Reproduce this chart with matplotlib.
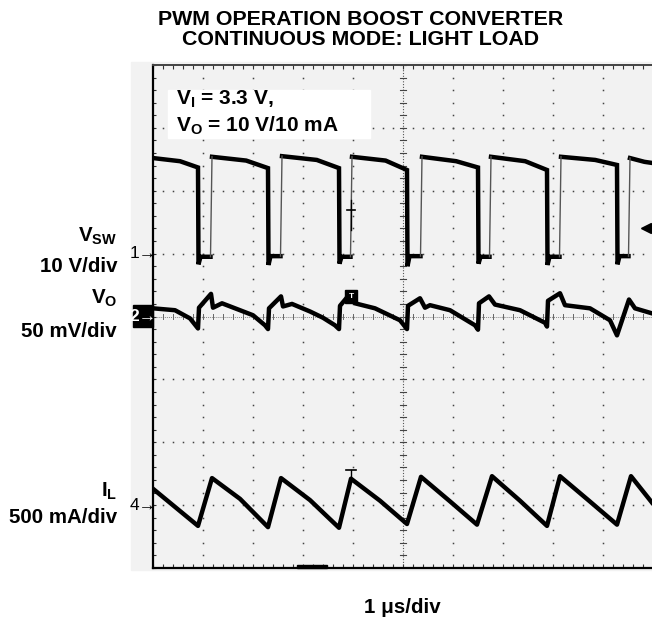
import matplotlib
matplotlib.use("Agg")
import matplotlib.pyplot as plt
from matplotlib.patches import Rectangle
import numpy as np

plt.rcParams['font.family'] = ['Liberation Sans', 'DejaVu Sans']
plt.rcParams['mathtext.fontset'] = 'custom'
plt.rcParams['mathtext.rm'] = 'Liberation Sans:bold'
plt.rcParams['mathtext.bf'] = 'Liberation Sans:bold'
plt.rcParams['mathtext.it'] = 'Liberation Sans:bold'

# ---------------- data (screen divisions) ----------------
title_lines = ["PWM OPERATION BOOST CONVERTER", "CONTINUOUS MODE: LIGHT LOAD"]
x_label = "1 μs/div"
ch_labels = [("$\\mathbf{V_{SW}}$", "10 V/div"), ("$\\mathbf{V_{O}}$", "50 mV/div"), ("$\\mathbf{I_{L}}$", "500 mA/div")]
annotation = ["$\\mathbf{V_{I}}$ = 3.3 V,", "$\\mathbf{V_{O}}$ = 10 V/10 mA"]

# Channel 1: switch node
sw_fall = [0.90, 2.30, 3.72, 5.08, 6.50, 7.88, 9.28]
sw_rise = [1.16, 2.56, 3.96, 5.36, 6.74, 8.14, 9.52]
sw_high_start = [2.52, 2.54, 2.55, 2.54, 2.54, 2.54, 2.54, 2.52]
sw_high_mid = [2.47, 2.48, 2.49, 2.48, 2.47, 2.47, 2.49, 2.46]
sw_high_end = [2.37, 2.36, 2.36, 2.33, 2.37, 2.33, 2.41]
sw_low = [0.95, 0.96, 0.95, 0.96, 0.95, 0.95, 0.96]
sw_undershoot = [0.83, 0.82, 0.84, 0.80, 0.84, 0.82, 0.83]

# Channel 2: output voltage ripple
vo_t = [0.00, 0.44, 0.74, 0.90, 0.92, 1.16, 1.20, 1.38, 1.74, 2.00, 2.24, 2.30,
        2.32, 2.56, 2.60, 2.78, 3.14, 3.40, 3.64, 3.72,
        3.74, 3.96, 4.04, 4.44, 4.94, 5.08,
        5.10, 5.34, 5.44, 5.54, 5.94, 6.44, 6.50,
        6.52, 6.72, 6.84, 7.34, 7.84, 7.88,
        7.90, 8.14, 8.24, 8.74, 9.14, 9.28,
        9.52, 9.64, 9.98]
vo_v = [0.13, 0.10, -0.03, -0.19, 0.14, 0.36, 0.14, 0.21, 0.10, 0.02, -0.14, -0.20,
        0.13, 0.32, 0.16, 0.20, 0.08, -0.02, -0.14, -0.20,
        0.17, 0.38, 0.21, 0.13, -0.06, -0.20,
        0.17, 0.29, 0.14, 0.18, 0.10, -0.14, -0.21,
        0.21, 0.32, 0.19, 0.10, -0.10, -0.16,
        0.25, 0.37, 0.18, 0.13, -0.06, -0.30,
        0.27, 0.13, 0.05]

# Channel 4: inductor current
il_t = [0.00, 0.90, 1.18, 1.74, 2.30, 2.56, 3.14, 3.72, 3.96, 4.54, 5.08,
        5.36, 5.94, 6.48, 6.78, 7.34, 7.88, 8.14, 8.72, 9.28, 9.56, 9.98]
il_v = [-2.74, -3.33, -2.57, -2.90, -3.35, -2.57, -2.92, -3.36, -2.58, -2.93, -3.30,
        -2.55, -2.94, -3.31, -2.54, -2.93, -3.33, -2.54, -2.93, -3.31, -2.54, -2.96]

trig_level = 1.40

# ---------------- figure ----------------
W, H = 652, 625
fig = plt.figure(figsize=(W / 100, H / 100), dpi=100)

def fx(x):
    return x / W

def fy(y):
    return 1 - y / H

fig.patches.append(Rectangle((fx(131), fy(570)), fx(652 - 131) + 0.01, (570 - 62) / H,
                             transform=fig.transFigure, color='#f2f2f2', zorder=-5))

ax = fig.add_axes([fx(153), fy(568), 500 / W, 503 / H])
ax.set_zorder(1)
ax.set_facecolor('#f2f2f2')
ax.set_xlim(0, 10)
ax.set_ylim(-4, 4)
for s in ['left', 'bottom']:
    ax.spines[s].set_color('black')
    ax.spines[s].set_linewidth(1.6)
ax.spines['top'].set_color('#444444')
ax.spines['top'].set_linewidth(1.4)
ax.spines['right'].set_visible(False)
ax.set_xticks(np.arange(0, 10.01, 0.2))
ax.set_yticks(np.arange(-4, 4.01, 0.2))
ax.tick_params(axis='x', which='both', direction='in', top=True, bottom=True,
               length=3, width=0.8, color='#333333', labelbottom=False)
ax.tick_params(axis='y', which='both', direction='in', left=True, right=False,
               length=2, width=0.8, color='#333333', labelleft=False)

# graticule dots
dot_c = '#444444'
ys = np.arange(-4, 4.001, 0.2)
xs = np.arange(0, 10.001, 0.2)
for k in range(1, 10):
    if k == 5:
        continue
    ax.plot(np.full_like(ys, k), ys, ls='none', marker='s', ms=1.1, mec='none', mfc=dot_c, zorder=1)
for m in range(-3, 4):
    if m == 0:
        continue
    ax.plot(xs, np.full_like(xs, m), ls='none', marker='s', ms=1.1, mec='none', mfc=dot_c, zorder=1)
ax.plot([5, 5], [-4, 4], color='#555555', lw=0.8, ls=(0, (1, 1.5)), zorder=1)
ax.plot([0, 10], [0, 0], color='#888888', lw=0.7, ls=(0, (1, 1)), zorder=1)
for yv in ys:
    ax.plot([4.94, 5.06], [yv, yv], color='#444444', lw=0.8, zorder=1)
for xv in xs:
    ax.plot([xv, xv], [-0.04, 0.04], color='#666666', lw=0.7, zorder=1)

# ---------------- traces ----------------
tr_lw = 3.2
# channel 1: thick high/low plateaus and falling edges, thin rising edges
t1, v1 = [0.0, sw_fall[0] * 0.6], [sw_high_start[0], sw_high_mid[0]]
for i in range(len(sw_fall)):
    t1 += [sw_fall[i], sw_fall[i] + 0.01, sw_fall[i] + 0.05, sw_rise[i] - 0.01, np.nan]
    v1 += [sw_high_end[i], sw_undershoot[i], sw_low[i], sw_low[i], np.nan]
    nxt = sw_fall[i + 1] if i + 1 < len(sw_fall) else 10.0
    t1 += [sw_rise[i] + 0.02, sw_rise[i] + 0.02 + 0.6 * (nxt - sw_rise[i])]
    v1 += [sw_high_start[i + 1], sw_high_mid[i + 1]]
t1 += [10.0]
v1 += [sw_high_mid[-1] - 0.02]
ax.plot(t1, v1, color='black', lw=tr_lw, solid_joinstyle='miter', zorder=3)
for i in range(len(sw_rise)):
    ax.plot([sw_rise[i] - 0.01, sw_rise[i] + 0.02], [sw_low[i], sw_high_start[i + 1]],
            color='#555555', lw=1.0, zorder=3)
ax.plot(vo_t, vo_v, color='black', lw=tr_lw, zorder=3)
ax.plot(il_t, il_v, color='black', lw=tr_lw, zorder=3)

# trigger markers
ax.plot([3.88, 4.04], [1.70, 1.70], color='black', lw=1.2, zorder=4)
ax.plot([3.96, 3.96], [1.85, 1.37], color='black', lw=1.0, zorder=4)
ax.add_patch(Rectangle((3.84, 0.22), 0.24, 0.20, color='black', zorder=5))
ax.text(3.96, 0.32, 'T', color='white', fontsize=6, fontweight='bold', ha='center', va='center', zorder=6)
ax.plot([3.86, 4.06], [-2.44, -2.44], color='black', lw=1.2, zorder=4)
ax.plot([3.96, 3.96], [-2.44, -2.58], color='black', lw=1.0, zorder=4)
ax.plot([9.86], [trig_level], marker='<', ms=7, color='black', ls='none', zorder=5)
ax.plot([9.86, 10], [trig_level, trig_level], color='black', lw=1.0, zorder=5)

# bottom marker bar
ax.add_patch(Rectangle((2.88, -4.0), 0.60, 0.05, color='black', zorder=5, clip_on=False))

# annotation box
fig.patches.append(Rectangle((fx(168), fy(138)), (370 - 168) / W, (138 - 90) / H,
                             transform=fig.transFigure, color='white', zorder=2))
fig.text(fx(176), fy(105), annotation[0], fontsize=15, fontweight='bold', ha='left', va='baseline', zorder=3)
fig.text(fx(176), fy(132), annotation[1], fontsize=15, fontweight='bold', ha='left', va='baseline', zorder=3)

# title
fig.text(fx(361), fy(25), title_lines[0], fontsize=15.4, fontweight='bold', ha='center', va='baseline')
fig.text(fx(361), fy(45), title_lines[1], fontsize=15.4, fontweight='bold', ha='center', va='baseline')

# channel labels on the left
lab_y = [(242, 272), (304, 337), (497, 523)]
for (name, scale), (y1, y2) in zip(ch_labels, lab_y):
    fig.text(fx(117), fy(y1), name, fontsize=14.8, ha='right', va='baseline')
    fig.text(fx(117), fy(y2), scale, fontsize=14.8, fontweight='bold', ha='right', va='baseline')

# channel reference markers
fig.text(fx(143), fy(253), '1→', fontsize=12.5, ha='center', va='center')
fig.patches.append(Rectangle((fx(133), fy(327)), 20 / W, 22 / H, transform=fig.transFigure,
                             color='black', zorder=3))
fig.text(fx(143), fy(316), '2→', fontsize=12.5, fontweight='bold', color='white', ha='center', va='center', zorder=4)
fig.text(fx(143), fy(505), '4→', fontsize=12.5, ha='center', va='center')

fig.text(fx(402), fy(613), x_label, fontsize=14.8, fontweight='bold', ha='center', va='baseline')

fig.savefig('out.png', dpi=100)
